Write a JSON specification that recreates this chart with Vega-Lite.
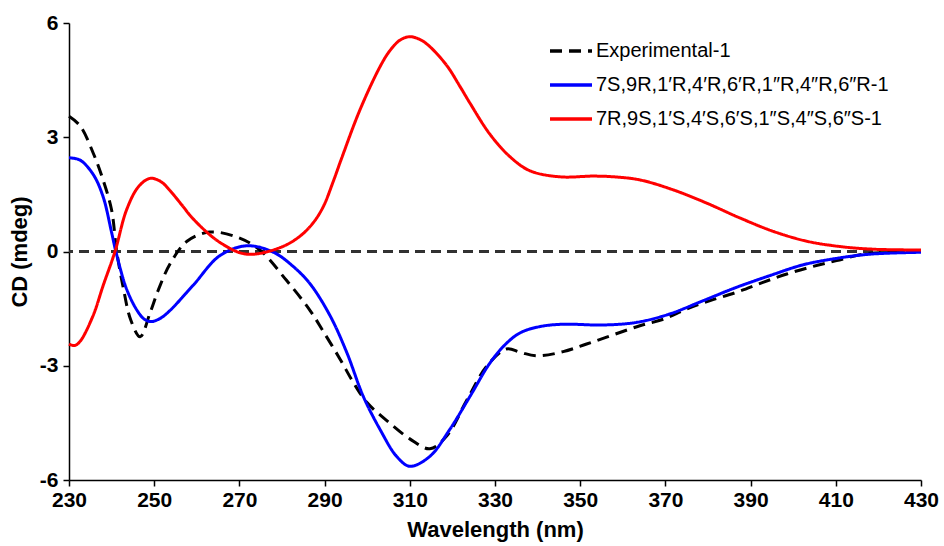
{
  "$schema": "https://vega.github.io/schema/vega-lite/v6.json",
  "width": 852,
  "height": 457,
  "autosize": {"type": "none"},
  "padding": {"left": 69, "top": 23, "right": 23, "bottom": 66},
  "background": "white",
  "config": {
    "view": {"stroke": null},
    "font": "Liberation Sans",
    "axis": {
      "grid": false,
      "domainColor": "black",
      "domainWidth": 1.5,
      "tickColor": "black",
      "tickWidth": 1.5,
      "tickSize": 6,
      "labelFlush": false,
      "labelFont": "Liberation Sans",
      "labelFontWeight": "bold",
      "labelFontSize": 21,
      "labelColor": "black",
      "titleFont": "Liberation Sans",
      "titleFontWeight": "bold",
      "titleFontSize": 22,
      "titleColor": "black"
    }
  },
  "data": {
    "values": [
      {"series": "Experimental-1", "wl": 230, "cd": 3.55},
      {"series": "Experimental-1", "wl": 232.6, "cd": 3.3},
      {"series": "Experimental-1", "wl": 235.7, "cd": 2.58},
      {"series": "Experimental-1", "wl": 238, "cd": 1.88},
      {"series": "Experimental-1", "wl": 240, "cd": 1.09},
      {"series": "Experimental-1", "wl": 241.2, "cd": 0.0},
      {"series": "Experimental-1", "wl": 242.7, "cd": -0.93},
      {"series": "Experimental-1", "wl": 244.5, "cd": -1.8},
      {"series": "Experimental-1", "wl": 246.7, "cd": -2.24},
      {"series": "Experimental-1", "wl": 249, "cd": -1.62},
      {"series": "Experimental-1", "wl": 251, "cd": -1.0},
      {"series": "Experimental-1", "wl": 253.7, "cd": -0.33},
      {"series": "Experimental-1", "wl": 257.7, "cd": 0.27},
      {"series": "Experimental-1", "wl": 263, "cd": 0.51},
      {"series": "Experimental-1", "wl": 269.4, "cd": 0.38},
      {"series": "Experimental-1", "wl": 274.8, "cd": 0.04},
      {"series": "Experimental-1", "wl": 281, "cd": -0.75},
      {"series": "Experimental-1", "wl": 286.6, "cd": -1.55},
      {"series": "Experimental-1", "wl": 289.7, "cd": -2.1},
      {"series": "Experimental-1", "wl": 293.6, "cd": -2.82},
      {"series": "Experimental-1", "wl": 296.7, "cd": -3.43},
      {"series": "Experimental-1", "wl": 299.9, "cd": -3.96},
      {"series": "Experimental-1", "wl": 304.6, "cd": -4.44},
      {"series": "Experimental-1", "wl": 310, "cd": -4.92},
      {"series": "Experimental-1", "wl": 314.7, "cd": -5.18},
      {"series": "Experimental-1", "wl": 318.7, "cd": -4.84},
      {"series": "Experimental-1", "wl": 323.4, "cd": -3.9},
      {"series": "Experimental-1", "wl": 328, "cd": -3.02},
      {"series": "Experimental-1", "wl": 332.7, "cd": -2.56},
      {"series": "Experimental-1", "wl": 336, "cd": -2.65},
      {"series": "Experimental-1", "wl": 339.8, "cd": -2.74},
      {"series": "Experimental-1", "wl": 346, "cd": -2.63},
      {"series": "Experimental-1", "wl": 351.5, "cd": -2.43},
      {"series": "Experimental-1", "wl": 357.7, "cd": -2.19},
      {"series": "Experimental-1", "wl": 364, "cd": -1.95},
      {"series": "Experimental-1", "wl": 369.5, "cd": -1.78},
      {"series": "Experimental-1", "wl": 375, "cd": -1.51},
      {"series": "Experimental-1", "wl": 380.5, "cd": -1.29},
      {"series": "Experimental-1", "wl": 386.7, "cd": -1.07},
      {"series": "Experimental-1", "wl": 392.9, "cd": -0.81},
      {"series": "Experimental-1", "wl": 398.5, "cd": -0.59},
      {"series": "Experimental-1", "wl": 404.7, "cd": -0.39},
      {"series": "Experimental-1", "wl": 410.2, "cd": -0.24},
      {"series": "Experimental-1", "wl": 416.4, "cd": -0.07},
      {"series": "Experimental-1", "wl": 423, "cd": -0.02},
      {"series": "Experimental-1", "wl": 430, "cd": 0.0},

      {"series": "7S,9R,1′R,4′R,6′R,1″R,4″R,6″R-1", "wl": 230, "cd": 2.46},
      {"series": "7S,9R,1′R,4′R,6′R,1″R,4″R,6″R-1", "wl": 232.6, "cd": 2.4},
      {"series": "7S,9R,1′R,4′R,6′R,1″R,4″R,6″R-1", "wl": 235.7, "cd": 2.02},
      {"series": "7S,9R,1′R,4′R,6′R,1″R,4″R,6″R-1", "wl": 238, "cd": 1.44},
      {"series": "7S,9R,1′R,4′R,6′R,1″R,4″R,6″R-1", "wl": 240, "cd": 0.5},
      {"series": "7S,9R,1′R,4′R,6′R,1″R,4″R,6″R-1", "wl": 241, "cd": 0.0},
      {"series": "7S,9R,1′R,4′R,6′R,1″R,4″R,6″R-1", "wl": 243.5, "cd": -0.98},
      {"series": "7S,9R,1′R,4′R,6′R,1″R,4″R,6″R-1", "wl": 246, "cd": -1.55},
      {"series": "7S,9R,1′R,4′R,6′R,1″R,4″R,6″R-1", "wl": 247.7, "cd": -1.78},
      {"series": "7S,9R,1′R,4′R,6′R,1″R,4″R,6″R-1", "wl": 249.3, "cd": -1.84},
      {"series": "7S,9R,1′R,4′R,6′R,1″R,4″R,6″R-1", "wl": 251.5, "cd": -1.75},
      {"series": "7S,9R,1′R,4′R,6′R,1″R,4″R,6″R-1", "wl": 253.7, "cd": -1.55},
      {"series": "7S,9R,1′R,4′R,6′R,1″R,4″R,6″R-1", "wl": 259.2, "cd": -0.88},
      {"series": "7S,9R,1′R,4′R,6′R,1″R,4″R,6″R-1", "wl": 265.4, "cd": -0.11},
      {"series": "7S,9R,1′R,4′R,6′R,1″R,4″R,6″R-1", "wl": 271.7, "cd": 0.15},
      {"series": "7S,9R,1′R,4′R,6′R,1″R,4″R,6″R-1", "wl": 278, "cd": -0.02},
      {"series": "7S,9R,1′R,4′R,6′R,1″R,4″R,6″R-1", "wl": 282.7, "cd": -0.4},
      {"series": "7S,9R,1′R,4′R,6′R,1″R,4″R,6″R-1", "wl": 286.6, "cd": -0.85},
      {"series": "7S,9R,1′R,4′R,6′R,1″R,4″R,6″R-1", "wl": 291.3, "cd": -1.69},
      {"series": "7S,9R,1′R,4′R,6′R,1″R,4″R,6″R-1", "wl": 295.2, "cd": -2.65},
      {"series": "7S,9R,1′R,4′R,6′R,1″R,4″R,6″R-1", "wl": 299.1, "cd": -3.81},
      {"series": "7S,9R,1′R,4′R,6′R,1″R,4″R,6″R-1", "wl": 303, "cd": -4.67},
      {"series": "7S,9R,1′R,4′R,6′R,1″R,4″R,6″R-1", "wl": 306.9, "cd": -5.38},
      {"series": "7S,9R,1′R,4′R,6′R,1″R,4″R,6″R-1", "wl": 310, "cd": -5.64},
      {"series": "7S,9R,1′R,4′R,6′R,1″R,4″R,6″R-1", "wl": 314.7, "cd": -5.38},
      {"series": "7S,9R,1′R,4′R,6′R,1″R,4″R,6″R-1", "wl": 319.4, "cd": -4.67},
      {"series": "7S,9R,1′R,4′R,6′R,1″R,4″R,6″R-1", "wl": 324.1, "cd": -3.81},
      {"series": "7S,9R,1′R,4′R,6′R,1″R,4″R,6″R-1", "wl": 328.8, "cd": -2.93},
      {"series": "7S,9R,1′R,4′R,6′R,1″R,4″R,6″R-1", "wl": 332.7, "cd": -2.41},
      {"series": "7S,9R,1′R,4′R,6′R,1″R,4″R,6″R-1", "wl": 336, "cd": -2.13},
      {"series": "7S,9R,1′R,4′R,6′R,1″R,4″R,6″R-1", "wl": 340.6, "cd": -1.97},
      {"series": "7S,9R,1′R,4′R,6′R,1″R,4″R,6″R-1", "wl": 346, "cd": -1.91},
      {"series": "7S,9R,1′R,4′R,6′R,1″R,4″R,6″R-1", "wl": 355.4, "cd": -1.93},
      {"series": "7S,9R,1′R,4′R,6′R,1″R,4″R,6″R-1", "wl": 363.3, "cd": -1.86},
      {"series": "7S,9R,1′R,4′R,6′R,1″R,4″R,6″R-1", "wl": 371, "cd": -1.64},
      {"series": "7S,9R,1′R,4′R,6′R,1″R,4″R,6″R-1", "wl": 378.9, "cd": -1.29},
      {"series": "7S,9R,1′R,4′R,6′R,1″R,4″R,6″R-1", "wl": 386.7, "cd": -0.94},
      {"series": "7S,9R,1′R,4′R,6′R,1″R,4″R,6″R-1", "wl": 394.6, "cd": -0.63},
      {"series": "7S,9R,1′R,4′R,6′R,1″R,4″R,6″R-1", "wl": 402.3, "cd": -0.35},
      {"series": "7S,9R,1′R,4′R,6′R,1″R,4″R,6″R-1", "wl": 410.2, "cd": -0.18},
      {"series": "7S,9R,1′R,4′R,6′R,1″R,4″R,6″R-1", "wl": 418, "cd": -0.07},
      {"series": "7S,9R,1′R,4′R,6′R,1″R,4″R,6″R-1", "wl": 430, "cd": -0.02},

      {"series": "7R,9S,1′S,4′S,6′S,1″S,4″S,6″S-1", "wl": 230, "cd": -2.43},
      {"series": "7R,9S,1′S,4′S,6′S,1″S,4″S,6″S-1", "wl": 231.3, "cd": -2.47},
      {"series": "7R,9S,1′S,4′S,6′S,1″S,4″S,6″S-1", "wl": 232.6, "cd": -2.36},
      {"series": "7R,9S,1′S,4′S,6′S,1″S,4″S,6″S-1", "wl": 235.6, "cd": -1.7},
      {"series": "7R,9S,1′S,4′S,6′S,1″S,4″S,6″S-1", "wl": 238, "cd": -0.9},
      {"series": "7R,9S,1′S,4′S,6′S,1″S,4″S,6″S-1", "wl": 240.8, "cd": 0.0},
      {"series": "7R,9S,1′S,4′S,6′S,1″S,4″S,6″S-1", "wl": 243.5, "cd": 1.09},
      {"series": "7R,9S,1′S,4′S,6′S,1″S,4″S,6″S-1", "wl": 246.3, "cd": 1.7},
      {"series": "7R,9S,1′S,4′S,6′S,1″S,4″S,6″S-1", "wl": 249, "cd": 1.92},
      {"series": "7R,9S,1′S,4′S,6′S,1″S,4″S,6″S-1", "wl": 251.5, "cd": 1.84},
      {"series": "7R,9S,1′S,4′S,6′S,1″S,4″S,6″S-1", "wl": 253.7, "cd": 1.6},
      {"series": "7R,9S,1′S,4′S,6′S,1″S,4″S,6″S-1", "wl": 256.5, "cd": 1.22},
      {"series": "7R,9S,1′S,4′S,6′S,1″S,4″S,6″S-1", "wl": 259.2, "cd": 0.85},
      {"series": "7R,9S,1′S,4′S,6′S,1″S,4″S,6″S-1", "wl": 265.4, "cd": 0.24},
      {"series": "7R,9S,1′S,4′S,6′S,1″S,4″S,6″S-1", "wl": 271.7, "cd": -0.07},
      {"series": "7R,9S,1′S,4′S,6′S,1″S,4″S,6″S-1", "wl": 279.5, "cd": 0.1},
      {"series": "7R,9S,1′S,4′S,6′S,1″S,4″S,6″S-1", "wl": 284.2, "cd": 0.4},
      {"series": "7R,9S,1′S,4′S,6′S,1″S,4″S,6″S-1", "wl": 287.3, "cd": 0.75},
      {"series": "7R,9S,1′S,4′S,6′S,1″S,4″S,6″S-1", "wl": 289.7, "cd": 1.18},
      {"series": "7R,9S,1′S,4′S,6′S,1″S,4″S,6″S-1", "wl": 292, "cd": 1.83},
      {"series": "7R,9S,1′S,4′S,6′S,1″S,4″S,6″S-1", "wl": 294, "cd": 2.45},
      {"series": "7R,9S,1′S,4′S,6′S,1″S,4″S,6″S-1", "wl": 298.3, "cd": 3.72},
      {"series": "7R,9S,1′S,4′S,6′S,1″S,4″S,6″S-1", "wl": 303, "cd": 4.85},
      {"series": "7R,9S,1′S,4′S,6′S,1″S,4″S,6″S-1", "wl": 305.3, "cd": 5.27},
      {"series": "7R,9S,1′S,4′S,6′S,1″S,4″S,6″S-1", "wl": 307.7, "cd": 5.55},
      {"series": "7R,9S,1′S,4′S,6′S,1″S,4″S,6″S-1", "wl": 310, "cd": 5.64},
      {"series": "7R,9S,1′S,4′S,6′S,1″S,4″S,6″S-1", "wl": 312.5, "cd": 5.56},
      {"series": "7R,9S,1′S,4′S,6′S,1″S,4″S,6″S-1", "wl": 314.7, "cd": 5.38},
      {"series": "7R,9S,1′S,4′S,6′S,1″S,4″S,6″S-1", "wl": 318.7, "cd": 4.88},
      {"series": "7R,9S,1′S,4′S,6′S,1″S,4″S,6″S-1", "wl": 321.8, "cd": 4.33},
      {"series": "7R,9S,1′S,4′S,6′S,1″S,4″S,6″S-1", "wl": 324.1, "cd": 3.9},
      {"series": "7R,9S,1′S,4′S,6′S,1″S,4″S,6″S-1", "wl": 328.8, "cd": 3.08},
      {"series": "7R,9S,1′S,4′S,6′S,1″S,4″S,6″S-1", "wl": 333.5, "cd": 2.49},
      {"series": "7R,9S,1′S,4′S,6′S,1″S,4″S,6″S-1", "wl": 338.2, "cd": 2.12},
      {"series": "7R,9S,1′S,4′S,6′S,1″S,4″S,6″S-1", "wl": 345.3, "cd": 1.96},
      {"series": "7R,9S,1′S,4′S,6′S,1″S,4″S,6″S-1", "wl": 353.1, "cd": 1.98},
      {"series": "7R,9S,1′S,4′S,6′S,1″S,4″S,6″S-1", "wl": 358, "cd": 1.96},
      {"series": "7R,9S,1′S,4′S,6′S,1″S,4″S,6″S-1", "wl": 364, "cd": 1.88},
      {"series": "7R,9S,1′S,4′S,6′S,1″S,4″S,6″S-1", "wl": 371.8, "cd": 1.62},
      {"series": "7R,9S,1′S,4′S,6′S,1″S,4″S,6″S-1", "wl": 379.7, "cd": 1.27},
      {"series": "7R,9S,1′S,4′S,6′S,1″S,4″S,6″S-1", "wl": 387.5, "cd": 0.88},
      {"series": "7R,9S,1′S,4′S,6′S,1″S,4″S,6″S-1", "wl": 395.3, "cd": 0.53},
      {"series": "7R,9S,1′S,4′S,6′S,1″S,4″S,6″S-1", "wl": 403.2, "cd": 0.27},
      {"series": "7R,9S,1′S,4′S,6′S,1″S,4″S,6″S-1", "wl": 411, "cd": 0.13},
      {"series": "7R,9S,1′S,4′S,6′S,1″S,4″S,6″S-1", "wl": 418.8, "cd": 0.06},
      {"series": "7R,9S,1′S,4′S,6′S,1″S,4″S,6″S-1", "wl": 430, "cd": 0.04}
    ]
  },
  "layer": [
    {
      "mark": {"type": "rule", "color": "#333333", "strokeWidth": 1.5, "strokeDash": [10, 6]},
      "encoding": {"y": {"datum": 0}}
    },
    {
      "mark": {"type": "line", "interpolate": "catmull-rom", "strokeWidth": 3},
      "encoding": {
        "x": {
          "field": "wl", "type": "quantitative",
          "scale": {"domain": [230, 430], "nice": false, "zero": false},
          "axis": {"values": [230, 250, 270, 290, 310, 330, 350, 370, 390, 410, 430], "title": "Wavelength (nm)", "labelPadding": 3, "titlePadding": 9}
        },
        "y": {
          "field": "cd", "type": "quantitative",
          "scale": {"domain": [-6, 6], "nice": false},
          "axis": {"values": [-6, -3, 0, 3, 6], "labelExpr": "toString(datum.value)", "title": "CD (mdeg)", "labelPadding": 5, "titlePadding": 8}
        },
        "color": {
          "field": "series", "type": "nominal",
          "scale": {
            "domain": ["Experimental-1", "7S,9R,1′R,4′R,6′R,1″R,4″R,6″R-1", "7R,9S,1′S,4′S,6′S,1″S,4″S,6″S-1"],
            "range": ["#000000", "#0000FF", "#FF0000"]
          },
          "legend": {
            "title": null,
            "orient": "none",
            "legendX": 479,
            "legendY": 5,
            "padding": 0,
            "symbolType": "stroke",
            "symbolSize": 1764,
            "symbolStrokeWidth": 3.5,
            "labelFont": "Liberation Sans",
            "labelFontSize": 20,
            "labelColor": "black",
            "labelOffset": 2,
            "labelLimit": 0,
            "rowPadding": 1
          }
        },
        "strokeDash": {
          "field": "series", "type": "nominal",
          "scale": {
            "domain": ["Experimental-1", "7S,9R,1′R,4′R,6′R,1″R,4″R,6″R-1", "7R,9S,1′S,4′S,6′S,1″S,4″S,6″S-1"],
            "range": [[12, 7], [1, 0], [1, 0]]
          },
          "legend": null
        },
        "order": {"field": "series"}
      }
    }
  ]
}
